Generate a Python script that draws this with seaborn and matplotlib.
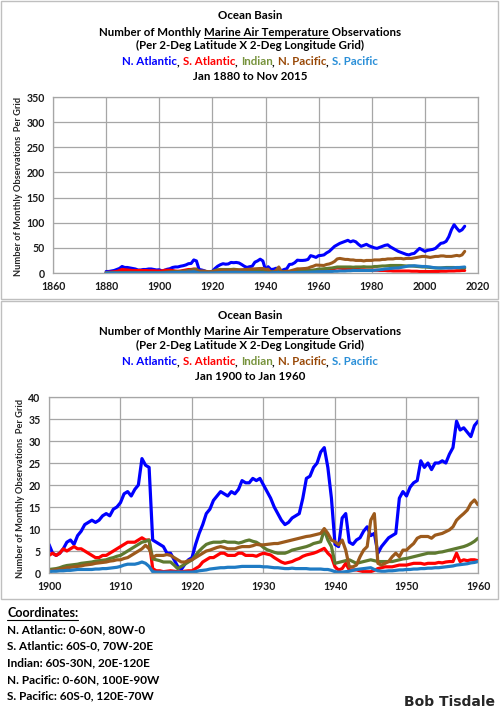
import numpy as np
import pandas as pd
import matplotlib
matplotlib.use('Agg')
import matplotlib.pyplot as plt
import seaborn as sns
from matplotlib.lines import Line2D
from matplotlib.patches import Rectangle

W, H = 500, 712

BASINS = ['N. Atlantic', 'S. Atlantic', 'Indian', 'N. Pacific', 'S. Pacific']
LINE_COLORS = {'N. Atlantic': '#0000FF', 'S. Atlantic': '#FF0000', 'Indian': '#5E7A30',
               'N. Pacific': '#9C5A1C', 'S. Pacific': '#1F7BC4'}
TITLE_COLORS = ['#0000FF', '#FF0000', '#77933C', '#984807', '#2A8FD8']

# half-year readings, Jan 1900 .. Jan 1960
NATL_1900_60 = [
    6.5, 4.5, 4.0, 4.5, 5.5, 7.0, 7.5, 6.5, 8.5, 9.5,
    11.0, 11.5, 12.0, 11.5, 12.0, 13.0, 13.5, 13.0, 14.5, 15.0,
    16.0, 18.0, 18.5, 17.5, 19.0, 20.0, 26.0, 24.5, 24.0, 7.5,
    7.0, 6.5, 6.0, 4.5, 4.5, 3.0, 1.5, 0.8, 2.0, 3.0,
    3.5, 6.5, 9.0, 11.0, 13.5, 14.5, 16.5, 17.5, 18.5, 18.0,
    17.5, 18.5, 18.0, 19.0, 21.0, 20.5, 20.5, 21.5, 21.0, 21.5,
    20.0, 18.5, 17.0, 15.0, 13.5, 12.0, 11.0, 11.5, 12.5, 13.0,
    13.5, 17.0, 21.5, 22.0, 24.0, 25.0, 27.5, 28.5, 24.0, 17.0,
    6.5, 6.0, 12.5, 13.5, 7.0, 6.5, 7.5, 8.0, 9.5, 10.5,
    8.5, 9.0, 4.5, 6.0, 7.0, 8.0, 8.5, 9.0, 17.0, 18.5,
    17.5, 19.5, 20.5, 21.0, 25.5, 24.0, 25.0, 23.5, 25.0, 25.0,
    25.5, 25.0, 27.0, 28.5, 34.5, 32.5, 33.0, 32.0, 31.0, 33.5,
    34.5]
SATL_1900_60 = [
    4.0, 4.5, 4.0, 4.5, 5.5, 5.0, 5.5, 6.0, 5.5, 5.5,
    5.0, 4.5, 4.0, 3.5, 3.5, 4.0, 4.0, 4.5, 5.0, 5.5,
    6.0, 6.5, 7.0, 7.0, 7.0, 7.5, 8.0, 7.5, 7.5, 1.0,
    0.5, 0.5, 0.3, 0.4, 0.5, 0.4, 0.3, 0.3, 0.4, 0.5,
    0.5, 1.0, 1.5, 2.5, 3.0, 3.5, 3.5, 4.0, 4.5, 4.5,
    4.0, 4.0, 4.0, 4.5, 4.5, 4.0, 4.0, 4.0, 3.8, 4.2,
    4.5, 4.3, 4.1, 3.5, 3.0, 2.5, 2.2, 2.4, 2.6, 3.0,
    3.3, 3.8, 4.1, 4.3, 4.5, 4.8, 5.2, 5.6, 4.5, 3.7,
    1.4, 0.7, 1.0, 2.2, 0.7, 0.7, 0.7, 0.5, 0.3, 0.3,
    0.3, 0.6, 1.0, 1.2, 1.4, 1.4, 1.4, 1.6, 1.8, 1.8,
    1.8, 2.0, 2.2, 2.2, 2.2, 2.0, 2.2, 2.2, 2.2, 2.4,
    2.3, 2.5, 2.6, 2.6, 4.5, 2.6, 3.0, 2.8, 3.0, 3.0,
    2.8]
IND_1900_60 = [
    0.8, 0.9, 1.0, 1.2, 1.5, 1.7, 1.8, 1.9, 2.0, 2.2,
    2.3, 2.4, 2.5, 2.7, 2.8, 2.9, 3.0, 3.3, 3.5, 3.8,
    4.0, 4.5, 5.0, 5.5, 6.0, 6.5, 7.0, 7.2, 7.5, 3.2,
    3.0, 2.8, 2.5, 2.5, 2.5, 1.8, 1.0, 1.5, 2.0, 2.5,
    3.0, 4.0, 5.0, 5.8, 6.5, 6.8, 7.0, 7.0, 7.0, 7.2,
    7.0, 7.0, 7.0, 6.8, 7.0, 7.3, 7.5, 7.2, 7.0, 6.5,
    5.8, 5.3, 5.0, 4.7, 4.5, 4.5, 4.5, 4.8, 5.2, 5.4,
    5.6, 5.8, 6.0, 6.3, 6.7, 6.9, 7.1, 9.8, 7.5, 6.0,
    2.2, 2.4, 2.6, 2.8, 3.0, 2.6, 2.2, 2.4, 2.6, 2.8,
    3.0, 2.8, 2.6, 2.6, 2.6, 2.6, 2.6, 2.8, 3.0, 3.2,
    3.3, 3.5, 3.7, 3.9, 4.1, 4.3, 4.5, 4.5, 4.5, 4.7,
    4.8, 5.0, 5.2, 5.4, 5.6, 5.8, 6.0, 6.3, 6.7, 7.2,
    7.9]
NPAC_1900_60 = [
    0.5, 0.6, 0.8, 0.9, 1.0, 1.2, 1.3, 1.4, 1.5, 1.6,
    1.8, 1.9, 2.0, 2.2, 2.3, 2.4, 2.5, 2.7, 2.8, 3.0,
    3.0, 3.3, 3.5, 4.0, 4.5, 5.0, 5.5, 6.3, 5.5, 3.5,
    4.0, 4.0, 4.0, 4.2, 4.0, 3.5, 3.0, 2.5, 2.5, 2.8,
    3.0, 3.5, 4.0, 4.5, 5.0, 5.2, 5.5, 5.8, 6.0, 5.8,
    5.5, 5.5, 5.5, 5.8, 6.0, 6.0, 6.0, 6.2, 6.5, 6.4,
    6.4, 6.5, 6.6, 6.7, 6.7, 6.9, 7.1, 7.3, 7.5, 7.7,
    7.9, 8.1, 8.3, 8.4, 8.6, 8.8, 9.0, 10.1, 9.0, 7.5,
    7.1, 6.4, 7.5, 5.2, 1.4, 1.4, 1.8, 3.7, 5.2, 6.0,
    12.0, 13.5, 2.2, 1.8, 2.2, 2.6, 3.7, 4.5, 3.7, 5.2,
    5.2, 6.0, 6.7, 7.9, 8.3, 8.3, 8.3, 7.9, 8.6, 8.8,
    9.0, 9.4, 9.8, 10.5, 12.0, 12.8, 13.5, 14.3, 15.8, 16.6,
    15.5]
SPAC_1900_60 = [
    0.3, 0.4, 0.4, 0.5, 0.5, 0.6, 0.6, 0.7, 0.8, 0.8,
    0.8, 0.8, 0.8, 0.9, 0.9, 1.0, 1.0, 1.1, 1.2, 1.3,
    1.5, 1.8, 2.0, 2.0, 2.0, 2.2, 2.5, 2.2, 1.5, 0.3,
    0.2, 0.2, 0.2, 0.2, 0.2, 0.2, 0.2, 0.2, 0.2, 0.2,
    0.2, 0.3, 0.5, 0.6, 0.7, 0.9, 1.0, 1.1, 1.2, 1.2,
    1.3, 1.3, 1.3, 1.4, 1.5, 1.5, 1.5, 1.5, 1.5, 1.5,
    1.4, 1.4, 1.3, 1.2, 1.2, 1.1, 1.0, 1.0, 1.1, 1.0,
    1.0, 1.0, 1.0, 0.9, 0.9, 0.9, 0.9, 0.8, 0.8, 0.6,
    0.3, 0.2, 0.2, 0.3, 0.4, 0.6, 0.8, 0.9, 1.0, 1.1,
    1.2, 0.8, 0.5, 0.4, 0.4, 0.5, 0.5, 0.6, 0.7, 0.7,
    0.8, 0.8, 0.9, 0.9, 1.0, 1.0, 1.1, 1.1, 1.2, 1.2,
    1.3, 1.4, 1.5, 1.6, 1.8, 1.9, 2.0, 2.1, 2.3, 2.4,
    2.6]

# yearly readings 1880 .. 1899
NATL_1880_99 = [3, 3, 4, 5, 7, 9, 13, 11, 11, 10, 9, 8, 6, 6, 7, 7, 8, 8, 7, 6]
SATL_1880_99 = [1, 1.5, 2, 2.5, 3, 5, 7, 6.5, 6, 5.5, 5, 5, 5, 5, 5, 5, 4.5, 4.5, 4.5, 4]
IND_1880_99 = [0.5, 0.5, 0.6, 0.7, 0.8, 1, 1.2, 1.2, 1.2, 1.1, 1, 1, 1, 0.9, 0.9, 0.9, 0.8, 0.8, 0.8, 0.8]
NPAC_1880_99 = [0.3, 0.3, 0.4, 0.4, 0.5, 0.5, 0.6, 0.6, 0.6, 0.6, 0.5, 0.5, 0.5, 0.5, 0.5, 0.5, 0.5, 0.5, 0.5, 0.5]
SPAC_1880_99 = [0.1, 0.1, 0.2, 0.2, 0.2, 0.3, 0.3, 0.3, 0.3, 0.3, 0.3, 0.3, 0.3, 0.3, 0.3, 0.3, 0.3, 0.3, 0.3, 0.3]

# yearly readings 1961 .. 2015
NATL_1961_15 = [35, 36, 40, 43, 48, 53, 56, 59, 61, 63, 65, 62, 64, 62, 57, 53, 55, 57, 54, 52,
                50, 49, 51, 53, 55, 56, 52, 49, 46, 43, 41, 39, 37, 36, 38, 39, 44, 49, 46, 43,
                45, 46, 47, 49, 54, 59, 60, 63, 72, 86, 96, 89, 83, 86, 93]
SATL_1961_15 = [3.5, 4.5, 5.5, 7, 8, 9, 10, 9.5, 9, 8.5, 8, 8, 7.5, 7, 7, 6.5, 6.5, 6, 6, 6,
                5.5, 5.5, 5, 5, 5, 4.5, 4.5, 4, 4, 4, 4, 4, 4, 4, 3.5, 3.5, 3.5, 3, 3, 3,
                3, 3, 3, 3, 3, 3.5, 3.5, 3.5, 4, 4, 4, 4.5, 4.5, 5, 5]
IND_1961_15 = [8, 8.5, 9, 9.5, 10, 11, 12, 12, 12, 12, 12, 12, 11.5, 12, 12, 12, 12.5, 12, 12, 12,
               13, 13, 13.5, 14, 14, 14.5, 15, 15, 15, 15, 15, 14.5, 14, 14, 14, 13.5, 13, 12.5, 12, 12,
               11.5, 11, 10.5, 10, 10, 10, 10.5, 11, 11, 11, 11, 10.5, 10, 10, 10]
NPAC_1961_15 = [15, 15, 17, 18, 20, 23, 28, 29, 28, 27, 27, 26, 26, 25, 25, 25, 24, 25, 25, 25,
                26, 26, 26, 27, 27, 28, 28, 28, 29, 29, 29, 28, 29, 29, 29, 30, 31, 32, 33, 33,
                32, 31, 32, 33, 33, 34, 34, 33, 33, 33, 34, 35, 34, 36, 43]
SPAC_1961_15 = [2.7, 2.8, 3, 3, 3, 3.5, 3.5, 4, 4, 4, 4.5, 4.5, 5, 5, 5, 5, 5, 5, 5, 5,
                5.5, 6, 6.5, 7, 8, 8.5, 9, 9.5, 10, 10, 11, 12, 13, 14, 14, 14.5, 14, 13.5, 13, 13,
                12.5, 12, 11, 10.5, 10, 10, 10, 10, 10, 10, 10.5, 11, 11, 11.5, 12]

MID = [NATL_1900_60, SATL_1900_60, IND_1900_60, NPAC_1900_60, SPAC_1900_60]
EARLY = [NATL_1880_99, SATL_1880_99, IND_1880_99, NPAC_1880_99, SPAC_1880_99]
LATE = [NATL_1961_15, SATL_1961_15, IND_1961_15, NPAC_1961_15, SPAC_1961_15]

YEARS_MID = np.arange(1900, 1960.01, 0.5)
YEARS_ALL = np.arange(1880, 2016)

GRID = '#A6A6A6'
FONT = ['Lato', 'DejaVu Sans']
TITLE_SIZE = 8.3


def long_frame(years, series):
    rows = []
    for basin, vals in zip(BASINS, series):
        rows.append(pd.DataFrame({'Year': years, 'Obs': vals, 'Basin': basin}))
    return pd.concat(rows, ignore_index=True)


def text_w(fig, s, **kw):
    r = fig.canvas.get_renderer()
    t = fig.text(0, 0, s + '|', **kw)
    w1 = t.get_window_extent(r).width
    t.remove()
    t = fig.text(0, 0, '|', **kw)
    w2 = t.get_window_extent(r).width
    t.remove()
    return w1 - w2


def line_of_parts(fig, ypx, parts, size, xc=250, x0=None, ul_off=5.5):
    kw = dict(fontsize=size, fontweight='bold', family=FONT)
    total = text_w(fig, ''.join(p[0] for p in parts), **kw)
    x = xc - total / 2 if x0 is None else x0
    for s, color, ul in parts:
        w = text_w(fig, s, **kw)
        fig.text(x / W, 1 - ypx / H, s, color=color, ha='left', va='center', **kw)
        if ul:
            lead = len(s) - len(s.lstrip())
            xs = x + (text_w(fig, s[:lead], **kw) if lead else 0)
            fig.add_artist(Line2D([xs / W, (x + w) / W], [1 - (ypx + ul_off) / H] * 2,
                                  color=color, lw=0.8, transform=fig.transFigure))
        x += w


def titles(fig, y0, period):
    line_of_parts(fig, y0, [('Ocean Basin', 'black', False)], TITLE_SIZE)
    line_of_parts(fig, y0 + 16.3, [('Number of Monthly ', 'black', False),
                                   ('Marine Air Temperature', 'black', True),
                                   (' Observations', 'black', False)], TITLE_SIZE, ul_off=6)
    line_of_parts(fig, y0 + 30, [('(Per 2-Deg Latitude X 2-Deg Longitude Grid)', 'black', False)],
                  TITLE_SIZE)
    parts = []
    for i, (b, c) in enumerate(zip(BASINS, TITLE_COLORS)):
        parts.append((b, c, False))
        if i < len(BASINS) - 1:
            parts.append((', ', 'black', False))
    line_of_parts(fig, y0 + 46, parts, TITLE_SIZE)
    line_of_parts(fig, y0 + 61, [(period, 'black', False)], TITLE_SIZE)


def style_axes(ax, xlim, ylim, xticks, yticks):
    ax.set_xlim(*xlim)
    ax.set_ylim(*ylim)
    ax.set_xticks(xticks)
    ax.set_yticks(yticks)
    ax.grid(True, color=GRID, lw=0.9)
    ax.set_axisbelow(True)
    for sp in ax.spines.values():
        sp.set_visible(True)
        sp.set_color(GRID)
        sp.set_linewidth(0.9)
    ax.tick_params(direction='out', length=3, width=0.8, color=GRID, pad=3,
                   labelsize=7.6, labelcolor='#1A1A1A')
    for lab in ax.get_xticklabels() + ax.get_yticklabels():
        lab.set_fontweight('bold')
        lab.set_family(FONT)
    ax.set_xlabel('')
    ax.set_ylabel('')


sns.set_style('white')
plt.rcParams['font.family'] = FONT

fig = plt.figure(figsize=(W / 100, H / 100), dpi=100)

# chart frames
for y_top, y_bot in [(1, 299), (301, 599)]:
    fig.add_artist(Rectangle((1 / W, 1 - y_bot / H), 497 / W, (y_bot - y_top) / H,
                             transform=fig.transFigure, fill=False, edgecolor='#BFBFBF', lw=1))

# top chart: Jan 1880 .. Nov 2015
top_series = [e + m[::2] + l for e, m, l in zip(EARLY, MID, LATE)]
df_top = long_frame(YEARS_ALL, top_series)
ax1 = fig.add_axes([53 / W, 1 - 273 / H, 425 / W, 176 / H])
sns.lineplot(data=df_top, x='Year', y='Obs', hue='Basin', palette=LINE_COLORS,
             hue_order=BASINS, lw=2.2, legend=False, ax=ax1)
style_axes(ax1, (1860, 2020), (0, 350), range(1860, 2021, 20), range(0, 351, 50))

# bottom chart: Jan 1900 .. Jan 1960
df_mid = long_frame(YEARS_MID, MID)
ax2 = fig.add_axes([49 / W, 1 - 573 / H, 429 / W, 176 / H])
sns.lineplot(data=df_mid, x='Year', y='Obs', hue='Basin', palette=LINE_COLORS,
             hue_order=BASINS, lw=2.3, legend=False, ax=ax2)
style_axes(ax2, (1900, 1960), (0, 40), range(1900, 1961, 10), range(0, 41, 5))

fig.canvas.draw()

titles(fig, 15.7, 'Jan 1880 to Nov 2015')
titles(fig, 315.7, 'Jan 1900 to Jan 1960')

for ypx, xpx in [(186, 19), (488, 21)]:
    fig.text(xpx / W, 1 - ypx / H, 'Number of Monthly Observations  Per Grid', rotation=90,
             ha='center', va='center', fontsize=6.7, fontweight='bold', family=FONT)

# coordinates block
line_of_parts(fig, 613, [('Coordinates:', 'black', True)], 9.0, x0=7, ul_off=6.5)
coords = ['N. Atlantic: 0-60N, 80W-0', 'S. Atlantic: 60S-0, 70W-20E',
          'Indian: 60S-30N, 20E-120E', 'N. Pacific: 0-60N, 100E-90W',
          'S. Pacific: 60S-0, 120E-70W']
for i, c in enumerate(coords):
    line_of_parts(fig, 629.5 + i * 16.7, [(c, 'black', False)], 8.5, x0=7)

fig.text(495 / W, 1 - 702 / H, 'Bob Tisdale', ha='right', va='center', fontsize=10,
         fontweight='bold', family=['DejaVu Sans'])

fig.savefig('out.png', dpi=100)
